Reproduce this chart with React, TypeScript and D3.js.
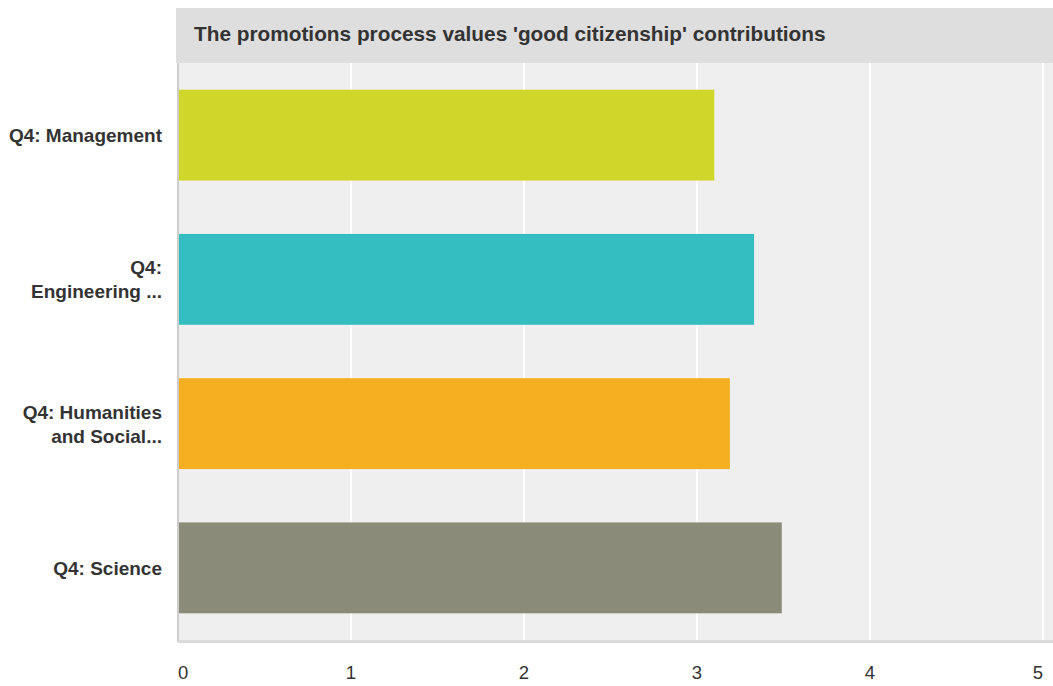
import React from "react";
import * as d3 from "d3";

const title = "The promotions process values 'good citizenship' contributions";
const categories = ["Q4: Management", "Q4: Engineering ...", "Q4: Humanities and Social...", "Q4: Science"];
const categoryLines = [["Q4: Management"], ["Q4:", "Engineering ..."], ["Q4: Humanities", "and Social..."], ["Q4: Science"]];
const values = [3.1, 3.33, 3.19, 3.49];
const colors = ["#d0d62a", "#35bec1", "#f6af20", "#8a8b79"];
const ticks = [0, 1, 2, 3, 4, 5];

const W = 1053;
const H = 686;
const left = 178;
const plotTop = 63;
const plotBottom = 640;

export default function App() {
  const x = d3.scaleLinear().domain([0, 5]).range([left, 1043]);
  const y = d3.scaleBand<string>().domain(categories).range([plotTop, plotBottom]).paddingInner(0.37).paddingOuter(0.185);
  const font = "'Liberation Sans', Arial, Helvetica, sans-serif";
  return (
    <svg width={W} height={H} style={{ position: "absolute", left: 0, top: 0, display: "block" }} fontFamily={font}>
      <rect x={0} y={0} width={W} height={H} fill="#ffffff" />
      <rect x={176} y={8} width={W - 176} height={plotTop - 8} fill="#dedede" />
      <text x={194} y={41} fontSize={20.8} fontWeight="bold" fill="#333333">{title}</text>
      <rect x={left} y={plotTop} width={W - left} height={plotBottom - plotTop} fill="#efefef" />
      {ticks.map((t) => (
        <line key={"g" + t} x1={x(t)} x2={x(t)} y1={plotTop} y2={plotBottom} stroke="#ffffff" strokeWidth={2} />
      ))}
      {categories.map((c, i) => (
        <rect key={c} x={x(0)} y={y(c)} width={x(values[i]) - x(0)} height={y.bandwidth()} fill={colors[i]} />
      ))}
      <line x1={left} x2={left} y1={plotTop} y2={plotBottom + 2} stroke="#cccccc" strokeWidth={2} />
      <line x1={left} x2={W} y1={plotBottom + 1.5} y2={plotBottom + 1.5} stroke="#dadada" strokeWidth={3} />
      {ticks.map((t, i) => (
        <text
          key={"t" + t}
          x={x(t)}
          y={679}
          fontSize={18.5}
          fill="#333333"
          textAnchor={i === 0 ? "start" : i === ticks.length - 1 ? "end" : "middle"}
        >
          {t}
        </text>
      ))}
      {categories.map((c, i) => {
        const lines = categoryLines[i];
        const cy = (y(c) as number) + y.bandwidth() / 2;
        const lh = 24;
        const start = cy - ((lines.length - 1) * lh) / 2 + 7;
        return (
          <text key={"l" + c} x={162} y={start} fontSize={19} fontWeight="bold" fill="#333333" textAnchor="end">
            {lines.map((ln, j) => (
              <tspan key={j} x={162} y={start + j * lh}>{ln}</tspan>
            ))}
          </text>
        );
      })}
    </svg>
  );
}
